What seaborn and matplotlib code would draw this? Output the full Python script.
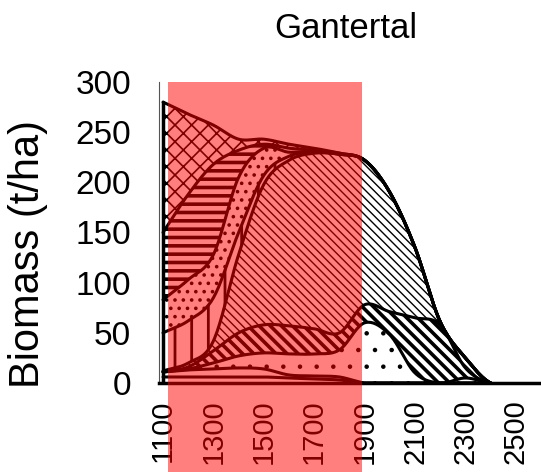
import numpy as np
import pandas as pd
import matplotlib
matplotlib.use("Agg")
import matplotlib.pyplot as plt
from matplotlib.patches import Rectangle
import seaborn as sns

# ---- data (t/ha per layer, stacked bottom to top) ----
elevation = [1100, 1200, 1300, 1400, 1500, 1600, 1700, 1800, 1900, 2000, 2100, 2200, 2300, 2400, 2500, 2600]
layer_a = [6, 6, 6, 6, 6, 5, 4, 3, 0, 0, 0, 0, 0, 0, 0, 0]
layer_b = [5, 7, 8, 9, 8, 3, 3, 3, 0, 0, 0, 0, 0, 0, 0, 0]
layer_c = [0, 1, 6, 12, 16, 21, 22, 27, 60, 48, 10, 0, 5, 0, 0, 0]
layer_d = [0, 2, 12, 23, 28, 28, 25, 17, 18, 23, 55, 58, 10, 0, 0, 0]
layer_e = [1, 4, 10, 78, 140, 165, 175, 178, 144, 119, 70, 3, 10, 0, 0, 0]
layer_f = [38, 42, 43, 22, 9, 4, 1, 0, 0, 0, 0, 0, 0, 0, 0, 0]
layer_g = [33, 41, 43, 55, 27, 4, 1, 0, 0, 0, 0, 0, 0, 0, 0, 0]
layer_h = [67, 85, 90, 27, 4, 4, 1, 1, 0, 0, 0, 0, 0, 0, 0, 0]
layer_i = [130, 80, 39, 11, 5, 4, 2, 0, 0, 0, 0, 0, 0, 0, 0, 0]
x_ticks = [1100, 1300, 1500, 1700, 1900, 2100, 2300, 2500]
y_ticks = [0, 50, 100, 150, 200, 250, 300]
title = "Gantertal"
y_label = "Biomass (t/ha)"
highlight = (1120, 1890)

layers = [layer_a, layer_b, layer_c, layer_d, layer_e, layer_f, layer_g, layer_h, layer_i]
hatches = [None, None, '.', '\\\\\\', '\\\\\\\\', '|', '..', '--', 'xx']
hatch_lw = [1.0, 1.0, 0.8, 2.6, 1.0, 2.0, 1.4, 2.6, 1.2]

sns.set_style("white")
plt.rcParams['font.family'] = ['Liberation Sans', 'DejaVu Sans']
plt.rcParams['text.color'] = 'black'
plt.rcParams['axes.labelcolor'] = 'black'
plt.rcParams['xtick.color'] = 'black'
plt.rcParams['ytick.color'] = 'black'

fig = plt.figure(figsize=(5.41, 4.72), dpi=100)
ax = fig.add_axes([159 / 541, 1 - 383 / 472, (541 - 159) / 541, (383 - 82) / 472])


def smooth(xs, ys, n=20):
    xs = np.asarray(xs, float)
    ys = np.asarray(ys, float)
    m = np.zeros_like(ys)
    m[1:-1] = (ys[2:] - ys[:-2]) / 2.0
    m[0] = ys[1] - ys[0]
    m[-1] = ys[-1] - ys[-2]
    out_x, out_y = [], []
    for i in range(len(xs) - 1):
        t = np.linspace(0, 1, n, endpoint=False)
        h00 = 2 * t**3 - 3 * t**2 + 1
        h10 = t**3 - 2 * t**2 + t
        h01 = -2 * t**3 + 3 * t**2
        h11 = t**3 - t**2
        out_x.append(xs[i] + t * (xs[i + 1] - xs[i]))
        out_y.append(h00 * ys[i] + h10 * m[i] + h01 * ys[i + 1] + h11 * m[i + 1])
    out_x.append([xs[-1]])
    out_y.append([ys[-1]])
    return np.concatenate(out_x), np.clip(np.concatenate(out_y), 0, None)


cum = np.cumsum(np.array(layers, float), axis=0)
bounds = [np.zeros(len(elevation))] + list(cum)
sm = [smooth(elevation, b) for b in bounds]
xs = sm[0][0]

for k in range(len(layers)):
    lo = sm[k][1]
    hi = np.maximum(sm[k + 1][1], lo)
    with plt.rc_context({'hatch.linewidth': hatch_lw[k]}):
        coll = ax.fill_between(xs, lo, hi, facecolor='white', edgecolor='black',
                               hatch=hatches[k], linewidth=0, zorder=2)
    try:
        coll.set_hatch_linewidth(hatch_lw[k])
    except Exception:
        pass

rows = []
for k in range(1, len(bounds)):
    ys = np.maximum.accumulate(np.array([s[1] for s in sm[:k + 1]]), axis=0)[-1]
    for xv, yv in zip(xs, ys):
        if yv > 0 or xv <= 2400:
            rows.append({'elev': xv, 'val': yv, 'line': k})
df = pd.DataFrame(rows)
sns.lineplot(data=df, x='elev', y='val', units='line', estimator=None, color='black',
             linewidth=2.2, ax=ax, zorder=3, sort=False)
ax.plot([1100, 1100], [0, cum[-1][0]], color='black', lw=2.5, zorder=3)

ax.set_xlim(1084, 2600)
ax.set_ylim(0, 300)
ax.set_xticks(np.arange(1100, 2601, 100))
ax.set_xticklabels([str(v) if v in x_ticks else '' for v in np.arange(1100, 2601, 100)],
                   rotation=90, fontsize=21)
ax.set_yticks(y_ticks)
ax.set_yticklabels([str(v) for v in y_ticks], fontsize=24)
ax.tick_params(axis='y', direction='out', length=8, width=1, color='#555555', pad=12)
ax.tick_params(axis='x', direction='out', length=7, width=1, color='#555555', pad=5)
ax.set_xlabel('')
ax.set_ylabel(y_label, fontsize=30, color='black')
ax.yaxis.set_label_coords(-0.29, 0.43)
for s in ['top', 'right']:
    ax.spines[s].set_visible(False)
ax.spines['left'].set_color('#555555')
ax.spines['bottom'].set_color('black')
ax.spines['bottom'].set_linewidth(2.5)
ax.set_title(title, fontsize=25, pad=32, x=0.49, color='black')

rect = Rectangle((highlight[0], -120), highlight[1] - highlight[0], 420,
                 facecolor=(1, 0, 0, 0.5), edgecolor='none', clip_on=False, zorder=10)
ax.add_patch(rect)

fig.savefig('out.png', dpi=100)
